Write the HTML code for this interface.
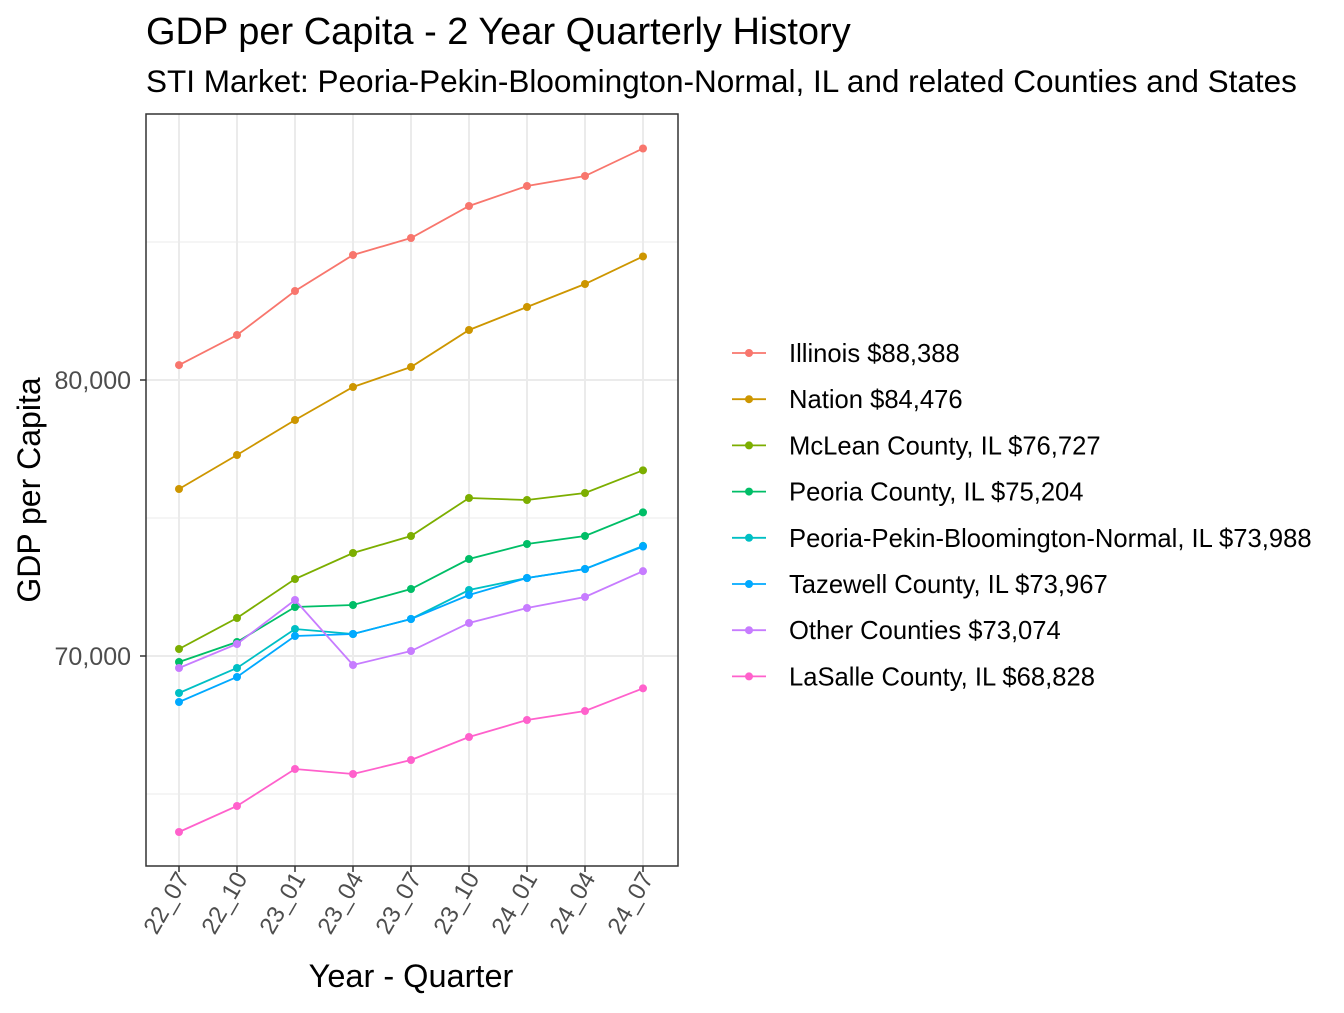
<!DOCTYPE html>
<html><head><meta charset="utf-8"><style>
body{margin:0;background:#fff;}
svg text{font-family:"Liberation Sans",Arial,sans-serif;}
</style></head><body>
<svg id="chart" width="1344" height="1008" xmlns="http://www.w3.org/2000/svg">
<rect width="1344" height="1008" fill="#fff"/>
<text x="146" y="44" font-size="38" fill="#000">GDP per Capita - 2 Year Quarterly History</text>
<text x="146" y="92" font-size="31.5" fill="#000">STI Market: Peoria-Pekin-Bloomington-Normal, IL and related Counties and States</text>
<g id="grid"></g>
<g id="series"></g>
<rect x="146" y="114" width="532" height="752" fill="none" stroke="#333" stroke-width="1.5"/>
<g id="axes"></g>
<text transform="translate(40,490) rotate(-90)" text-anchor="middle" font-size="32" fill="#000">GDP per Capita</text>
<text x="411" y="987" text-anchor="middle" font-size="32.5" fill="#000">Year - Quarter</text>
<g id="legend"></g>
</svg>
<script>
const categories=["22_07","22_10","23_01","23_04","23_07","23_10","24_01","24_04","24_07"];
const seriesNames=["Illinois $88,388","Nation $84,476","McLean County, IL $76,727","Peoria County, IL $75,204","Peoria-Pekin-Bloomington-Normal, IL $73,988","Tazewell County, IL $73,967","Other Counties $73,074","LaSalle County, IL $68,828"];
const colors=["#F8766D","#CD9600","#7CAE00","#00BE67","#00BFC4","#00A9FF","#C77CFF","#FF61CC"];
const illinois=[80540,81630,83225,84529,85145,86304,87029,87391,88388];
const nation=[76051,77283,78551,79746,80471,81812,82645,83478,84476];
const mclean=[70254,71377,72790,73732,74348,75725,75652,75906,76727];
const peoria=[69783,70507,71775,71848,72428,73514,74058,74348,75204];
const ppbn=[68659,69565,70978,70797,71341,72391,72826,73152,73988];
const tazewell=[68333,69239,70725,70797,71341,72210,72826,73152,73967];
const other=[69565,70435,72029,69674,70181,71196,71739,72138,73074];
const lasalle=[63623,64565,65906,65725,66232,67065,67681,68007,68828];
const allSeries=[illinois,nation,mclean,peoria,ppbn,tazewell,other,lasalle];
const majorTicks=[70000,80000];
const tickLabels=["70,000","80,000"];
const minorTicks=[65000,75000,85000];
const NS="http://www.w3.org/2000/svg";
const x=i=>179+i*58;
const y=v=>380-(v-80000)*0.0276;
function mk(tag,attrs,parent){const e=document.createElementNS(NS,tag);for(const k in attrs)e.setAttribute(k,attrs[k]);parent.appendChild(e);return e;}
const grid=document.getElementById('grid'),ser=document.getElementById('series'),ax=document.getElementById('axes'),lg=document.getElementById('legend');
minorTicks.forEach(v=>{const l=mk('line',{x1:146,x2:678,y1:y(v),y2:y(v),stroke:'#ebebeb','stroke-width':1},grid);

});
majorTicks.forEach((v,i)=>{const l=mk('line',{x1:146,x2:678,y1:y(v),y2:y(v),stroke:'#ebebeb','stroke-width':2},grid);


const t=mk('line',{x1:140,x2:146,y1:y(v),y2:y(v),stroke:'#333','stroke-width':1.5},ax);


const tx=mk('text',{x:131,y:y(v)+9,'text-anchor':'end','font-size':25,fill:'#4d4d4d'},ax);tx.textContent=tickLabels[i];

});
categories.forEach((c,i)=>{const l=mk('line',{x1:x(i),x2:x(i),y1:114,y2:866,stroke:'#ebebeb','stroke-width':2},grid);


const t=mk('line',{x1:x(i),x2:x(i),y1:866,y2:872,stroke:'#333','stroke-width':1.5},ax);


const tx=mk('text',{transform:`translate(${x(i)+11},${878}) rotate(-60)`,'text-anchor':'end','font-size':24,fill:'#4d4d4d'},ax);tx.textContent=c;

});
allSeries.forEach((d,s)=>{const g=mk('g',{},ser);


const p=mk('polyline',{points:d.map((v,i)=>x(i)+','+y(v)).join(' '),fill:'none',stroke:colors[s],'stroke-width':1.8},g);
d.forEach((v,i)=>{const c=mk('circle',{cx:x(i),cy:y(v),r:4,fill:colors[s]},g);

});
const ly=353+s*46.2;
const e=mk('g',{},lg);


mk('line',{x1:732,x2:766,y1:ly,y2:ly,stroke:colors[s],'stroke-width':1.8},e);
mk('circle',{cx:749,cy:ly,r:4,fill:colors[s]},e);
const t=mk('text',{x:789,y:ly+9,'font-size':25.6,fill:'#000'},e);t.textContent=seriesNames[s];});
</script>
</body></html>
